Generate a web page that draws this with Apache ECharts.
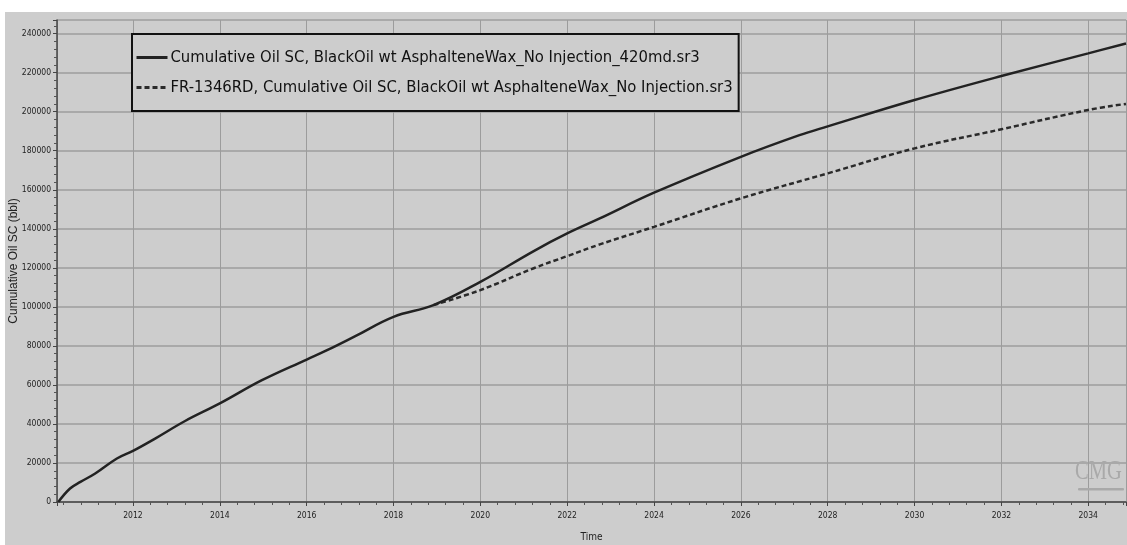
<!DOCTYPE html>
<html>
<head>
<meta charset="utf-8">
<script src="https://cdn.jsdelivr.net/npm/echarts@6/dist/echarts.min.js"></script>
<style>
  html, body { margin: 0; padding: 0; background: #fff; }
  #chart { width: 1127px; height: 545px; }
</style>
</head>
<body>
<div id="chart"></div>
<script>
// values (time in decimal years, bbl)
const solidYears = [2010.28, 2010.55, 2010.79, 2011.13, 2011.63, 2012, 2012.51, 2013.2, 2014, 2014.97, 2016, 2016.47, 2017.12, 2018, 2018.92, 2020, 2021.23, 2022, 2022.75, 2024, 2026, 2027.35, 2028, 2030, 2032, 2034, 2034.87]
const solidValues = [0, 6900, 10300, 14600, 22300, 26200, 32500, 41500, 50500, 62400, 73000, 77800, 85000, 94900, 100900, 112800, 128600, 137600, 145300, 158500, 176900, 188000, 192500, 206000, 218300, 229900, 235000]

const dashedYears = [2018.92, 2020, 2021.23, 2022, 2022.75, 2024, 2026, 2028, 2030, 2032, 2034, 2034.87]
const dashedValues = [100900, 108600, 119800, 126000, 132000, 141000, 155600, 168400, 181200, 191000, 200900, 204000]

const seriesNames = [
  'Cumulative Oil SC, BlackOil wt AsphalteneWax_No Injection_420md.sr3',
  'FR-1346RD, Cumulative Oil SC, BlackOil wt AsphalteneWax_No Injection.sr3'
]

const narrow = "'Liberation Sans Narrow', 'DejaVu Sans Condensed', 'Liberation Sans', sans-serif"
const grey = '#cdcdcd'
const gridColor = '#9c9c9c'

const chart = echarts.init(document.getElementById('chart'))

function pairs(xs, ys) {
  return xs.map((x, i) => [x, ys[i]])
}

chart.setOption({
  backgroundColor: '#ffffff',
  animation: false,
  graphic: [
    { type: 'rect', z: -10, silent: true, shape: { x: 5, y: 12, width: 1122, height: 533 }, style: { fill: grey } },
    {
      type: 'text', x: 1075, y: 458, scaleX: 0.76, z: 1, silent: true,
      style: { text: 'CMG', fill: '#a9a9a9', font: '27px "Liberation Serif", serif' }
    },
    { type: 'rect', z: 1, silent: true, shape: { x: 1078, y: 488, width: 46, height: 2.5, r: 1 }, style: { fill: '#a9a9a9' } }
  ],
  legend: {
    orient: 'vertical',
    left: 132,
    top: 34,
    padding: [15, 6, 15, 3],
    itemGap: 13,
    itemWidth: 31,
    itemHeight: 14,
    backgroundColor: grey,
    borderColor: '#111',
    borderWidth: 2,
    itemStyle: { color: 'transparent', borderWidth: 0, opacity: 0 },
    lineStyle: { width: 3 },
    textStyle: { color: '#111', fontSize: 16.5, fontFamily: narrow, padding: [0, 0, 0, -2] },
    data: seriesNames
  },
  grid: { left: 57, right: 1, top: 20, bottom: 43, outerBoundsMode: 'none', containLabel: false },
  xAxis: {
    type: 'value',
    min: 2010.25,
    max: 2034.87,
    splitNumber: 12,
    name: 'Time',
    nameLocation: 'middle',
    nameGap: 30,
    nameMoveOverlap: false,
    nameTextStyle: { color: '#222', fontSize: 10, fontFamily: narrow },
    axisLine: { lineStyle: { color: '#444', width: 1.5 } },
    axisTick: { length: 4, lineStyle: { color: '#444' } },
    minorTick: { show: true, splitNumber: 5, length: 3, lineStyle: { color: '#555' } },
    axisLabel: {
      color: '#222', fontSize: 8.5, fontFamily: narrow, margin: 9,
      showMinLabel: false, showMaxLabel: false,
      formatter: (v) => (Math.abs(v - Math.round(v)) < 1e-6 ? String(Math.round(v)) : '')
    },
    splitLine: { show: true, lineStyle: { color: gridColor, width: 1 } }
  },
  yAxis: {
    type: 'value',
    min: 0,
    max: 247000,
    interval: 20000,
    name: 'Cumulative Oil SC (bbl)',
    nameLocation: 'middle',
    nameGap: 37,
    nameMoveOverlap: false,
    nameTextStyle: { color: '#222', fontSize: 12, fontFamily: "'Liberation Sans', sans-serif" },
    axisLine: { show: true, lineStyle: { color: '#444', width: 1.5 } },
    axisTick: { show: true, length: 4, lineStyle: { color: '#444' } },
    minorTick: { show: true, splitNumber: 5, length: 3, lineStyle: { color: '#555' } },
    axisLabel: {
      color: '#222', fontSize: 8.5, fontFamily: narrow, margin: 6,
      showMaxLabel: false,
      formatter: (v) => (v % 20000 === 0 ? String(v) : '')
    },
    splitLine: { show: true, lineStyle: { color: gridColor, width: 1.5 } }
  },
  series: [
    {
      name: seriesNames[1],
      type: 'line',
      data: pairs(dashedYears, dashedValues),
      smooth: 0.4,
      symbol: 'none',
      lineStyle: { color: '#2a2a2a', width: 2.5, type: [5, 3] },
      itemStyle: { color: '#2a2a2a' }
    },
    {
      name: seriesNames[0],
      type: 'line',
      data: pairs(solidYears, solidValues),
      smooth: 0.4,
      symbol: 'none',
      z: 3,
      lineStyle: { color: '#222', width: 2.5 },
      itemStyle: { color: '#222' }
    }
  ]
})
</script>
</body>
</html>
